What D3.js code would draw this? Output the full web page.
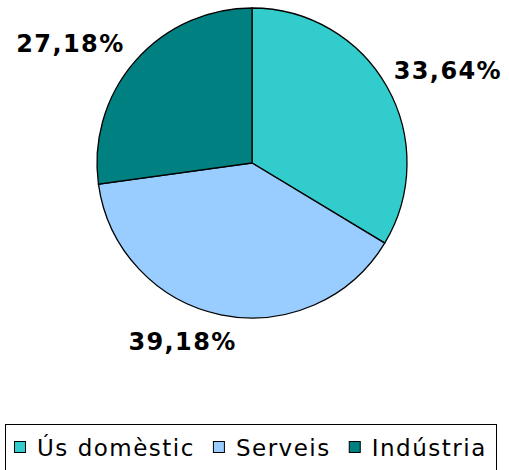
<!DOCTYPE html>
<html>
<head>
<meta charset="utf-8">
<script src="https://cdn.jsdelivr.net/npm/d3@7"></script>
<style>
  body { margin: 0; background: #fff; }
  svg { display: block; }
</style>
</head>
<body>
<div id="chart"></div>
<script>
// data
var categories = ["Ús domèstic", "Serveis", "Indústria"];
var values = [33.64, 39.18, 27.18];
var labels = ["33,64%", "39,18%", "27,18%"];
var colors = ["#33CCCC", "#99CCFF", "#008080"];

var width = 509, height = 470;
var cx = 252, cy = 163, radius = 155;

var svg = d3.select("#chart").append("svg")
  .attr("width", width)
  .attr("height", height);

var g = svg.append("g")
  .attr("transform", "translate(" + cx + "," + cy + ")");

var pie = d3.pie().sort(null).value(function(d) { return d; });
var arc = d3.arc().innerRadius(0).outerRadius(radius);

var arcs = pie(values);

//slices
g.selectAll(".slice")
  .data(arcs)
  .enter().append("path")
    .attr("class", "slice")
    .attr("d", arc)
    .attr("fill", function(d, i) { return colors[i]; })
    .attr("stroke", "#000")
    .attr("stroke-width", 1.3);

//labels just outside the edge
var lr = radius + 10;
g.selectAll(".lbl")
  .data(arcs)
  .enter().append("text")
    .attr("class", "lbl")
    .each(function(d, i) {
      var a = (d.startAngle + d.endAngle) / 2;
      var x = Math.sin(a) * lr, y = -Math.cos(a) * lr;
      var t = d3.select(this);
      t.attr("text-anchor", x > 0 ? "start" : "end")
        .attr("x", Math.cos(a) < 0 ? x + 18 : (x > 0 ? x - 2 : x - 3))
        .attr("y", Math.cos(a) < 0 ? y + 25 : y - 3)
        .text(labels[i]);
    })
    .attr("font-family", "Verdana, 'DejaVu Sans', sans-serif")
    .attr("font-weight", "bold")
    .attr("font-size", 24)
    .attr("letter-spacing", 1.4)
    .attr("fill", "#000");

//legend
var legend = svg.append("g").attr("class", "legend");
legend.append("rect")
  .attr("x", 5.5).attr("y", 424.5)
  .attr("width", 491).attr("height", 60)
  .attr("fill", "#fff")
  .attr("stroke", "#000");

var lx = 14;
categories.forEach(function(c, i) {
  legend.append("rect")
    .attr("x", lx + 0.5).attr("y", 441.5)
    .attr("width", 11).attr("height", 11)
    .attr("fill", colors[i])
    .attr("stroke", "#000");
  var t = legend.append("text")
    .attr("x", lx + 23)
    .attr("y", 456)
    .attr("font-family", "Verdana, 'DejaVu Sans', sans-serif")
    .attr("font-size", 23)
    .attr("letter-spacing", 1.5)
    .attr("fill", "#000")
    .text(c);
  lx = lx + 23 + t.node().getComputedTextLength() + 18;
});
</script>
</body>
</html>
